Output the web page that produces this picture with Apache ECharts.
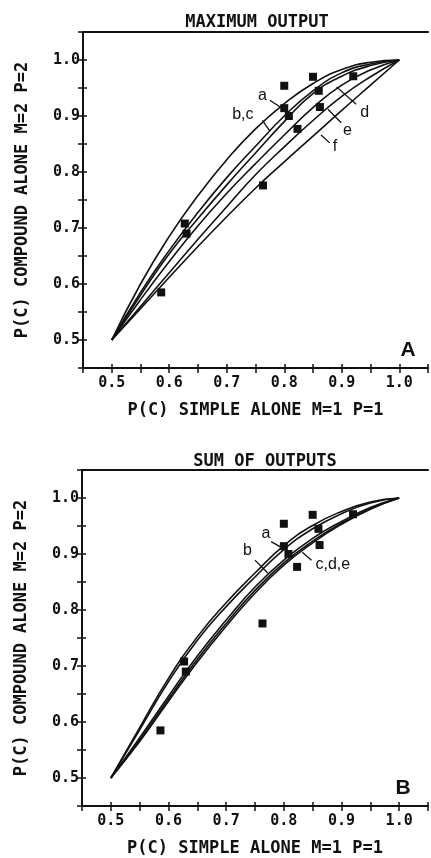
<!DOCTYPE html>
<html>
<head>
<meta charset="utf-8">
<script src="https://cdn.jsdelivr.net/npm/echarts@6/dist/echarts.min.js"></script>
<style>
  html, body { margin: 0; padding: 0; background: #fff; }
  #chart { width: 431px; height: 858px; }
</style>
</head>
<body>
<div id="chart"></div>
<script>
// shared x positions of the read curve points
const curveX = [0.5, 0.55, 0.6, 0.65, 0.7, 0.75, 0.8, 0.85, 0.9, 0.95, 1.0];

// panel A: maximum output
const maxA = [0.5, 0.6, 0.685, 0.758, 0.822, 0.877, 0.922, 0.958, 0.983, 0.996, 1.0];
const maxB = [0.5, 0.585, 0.66, 0.728, 0.79, 0.846, 0.9, 0.945, 0.977, 0.993, 1.0];
const maxC = [0.5, 0.58, 0.654, 0.717, 0.777, 0.834, 0.89, 0.94, 0.971, 0.99, 1.0];
const maxD = [0.5, 0.572, 0.64, 0.704, 0.762, 0.815, 0.866, 0.915, 0.955, 0.982, 1.0];
const maxE = [0.5, 0.56, 0.62, 0.68, 0.738, 0.795, 0.845, 0.892, 0.935, 0.97, 1.0];
const maxF = [0.5, 0.556, 0.612, 0.667, 0.72, 0.771, 0.818, 0.864, 0.91, 0.955, 1.0];

// panel B: sum of outputs
const sumA = [0.5, 0.59, 0.678, 0.752, 0.813, 0.866, 0.915, 0.951, 0.976, 0.993, 1.0];
const sumB = [0.5, 0.586, 0.672, 0.746, 0.806, 0.859, 0.908, 0.945, 0.972, 0.991, 1.0];
const sumC = [0.5, 0.572, 0.646, 0.718, 0.782, 0.841, 0.889, 0.928, 0.958, 0.983, 1.0];
const sumD = [0.5, 0.568, 0.641, 0.712, 0.776, 0.835, 0.884, 0.923, 0.955, 0.981, 1.0];
const sumE = [0.5, 0.565, 0.637, 0.707, 0.771, 0.83, 0.88, 0.92, 0.953, 0.98, 1.0];

// observed data (same in both panels)
const obsX = [0.586, 0.627, 0.63, 0.763, 0.80, 0.80, 0.808, 0.823, 0.85, 0.86, 0.862, 0.92];
const obsY = [0.585, 0.708, 0.69, 0.776, 0.954, 0.914, 0.90, 0.877, 0.97, 0.945, 0.916, 0.971];

// curve labels: text position and leader line (data units)
const notesA = [
  { text: 'a',   at: [0.762, 0.936], from: [0.775, 0.928], to: [0.793, 0.916] },
  { text: 'b,c', at: [0.728, 0.903], from: [0.762, 0.892], to: [0.775, 0.873] },
  { text: 'd',   at: [0.94, 0.906],  from: [0.925, 0.921], to: [0.891, 0.952] },
  { text: 'e',   at: [0.91, 0.874],  from: [0.899, 0.888], to: [0.876, 0.912] },
  { text: 'f',   at: [0.888, 0.846], from: [0.879, 0.852], to: [0.864, 0.866] }
];
const notesB = [
  { text: 'a',     at: [0.769, 0.936], from: [0.778, 0.922], to: [0.797, 0.911] },
  { text: 'b',     at: [0.737, 0.906], from: [0.75, 0.889],  to: [0.772, 0.866] },
  { text: 'c,d,e', at: [0.885, 0.881], from: [0.848, 0.889], to: [0.832, 0.903] }
];

const MONO = '"DejaVu Sans Mono", monospace';
const INK = '#111';

function pairs(xs, ys) {
  return xs.map((x, i) => [x, ys[i]]);
}

function tickLabel(v) {
  const t = v * 10;
  return Math.abs(t - Math.round(t)) < 1e-6 ? v.toFixed(1) : '';
}

function axesFor(grid, xName, yName, yGap) {
  const base = { type: 'value', gridIndex: grid, min: 0.45, max: 1.05, interval: 0.05, splitLine: { show: false } };
  const x = [
    Object.assign({}, base, {
      position: 'bottom',
      name: xName, nameLocation: 'middle', nameGap: 34,
      nameTextStyle: { fontFamily: MONO, fontSize: 17, fontWeight: 'bold', color: INK },
      axisLine: { lineStyle: { color: INK, width: 2 } },
      axisTick: { length: 5, lineStyle: { color: INK, width: 1.5 } },
      axisLabel: { formatter: tickLabel, margin: 8, fontFamily: MONO, fontSize: 15, fontWeight: 'bold', color: INK }
    }),
    Object.assign({}, base, {
      position: 'bottom',
      axisLine: { show: false },
      axisTick: { inside: true, length: 4, lineStyle: { color: INK, width: 1.5 } },
      axisLabel: { show: false }
    }),
    Object.assign({}, base, {
      position: 'top',
      axisLine: { lineStyle: { color: INK, width: 2 } },
      axisTick: { show: false },
      axisLabel: { show: false }
    })
  ];
  const y = [
    Object.assign({}, base, {
      position: 'left',
      name: yName, nameLocation: 'middle', nameGap: yGap,
      nameTextStyle: { fontFamily: MONO, fontSize: 17, fontWeight: 'bold', color: INK },
      axisLine: { lineStyle: { color: INK, width: 2 } },
      axisTick: { length: 5, lineStyle: { color: INK, width: 1.5 } },
      axisLabel: { formatter: tickLabel, margin: 3, fontFamily: MONO, fontSize: 15, fontWeight: 'bold', color: INK }
    }),
    Object.assign({}, base, {
      position: 'left',
      axisLine: { show: false },
      axisTick: { inside: true, length: 4, lineStyle: { color: INK, width: 1.5 } },
      axisLabel: { show: false }
    })
  ];
  return { x, y };
}

function curve(ys, xi, yi) {
  return {
    type: 'line', xAxisIndex: xi, yAxisIndex: yi,
    data: pairs(curveX, ys),
    smooth: 0.5,
    showSymbol: false, silent: true,
    lineStyle: { color: INK, width: 1.6 }
  };
}

function notesSeries(notes, xi, yi) {
  return {
    type: 'line', xAxisIndex: xi, yAxisIndex: yi, data: [], silent: true,
    markPoint: {
      symbol: 'circle', symbolSize: 0,
      label: { show: true, position: 'inside', fontFamily: 'Liberation Sans, Arial, sans-serif', fontSize: 16, color: INK },
      data: notes.map(n => ({ coord: n.at, value: n.text, label: { formatter: n.text } }))
    },
    markLine: {
      symbol: ['none', 'none'], silent: true,
      label: { show: false },
      lineStyle: { color: INK, width: 1.3, type: 'solid' },
      data: notes.map(n => [{ coord: n.from }, { coord: n.to }])
    }
  };
}

function dots(xi, yi) {
  return {
    type: 'scatter', xAxisIndex: xi, yAxisIndex: yi,
    data: pairs(obsX, obsY),
    symbol: 'rect', symbolSize: 8, silent: true,
    itemStyle: { color: INK, opacity: 1 }, z: 5
  };
}

const axA = axesFor(0, 'P(C) SIMPLE ALONE M=1 P=1', 'P(C) COMPOUND ALONE M=2 P=2', 52);
const axB = axesFor(1, 'P(C) SIMPLE ALONE M=1 P=1', 'P(C) COMPOUND ALONE M=2 P=2', 52);

const option = {
  backgroundColor: '#fff',
  animation: false,
  title: [
    { text: 'MAXIMUM OUTPUT', left: 252, top: 9, textAlign: 'center',
      textStyle: { fontFamily: MONO, fontSize: 17, fontWeight: 'bold', color: INK } },
    { text: 'SUM OF OUTPUTS', left: 260, top: 448, textAlign: 'center',
      textStyle: { fontFamily: MONO, fontSize: 17, fontWeight: 'bold', color: INK } },
    { text: 'A', left: 403, top: 335, textAlign: 'center',
      textStyle: { fontFamily: 'Liberation Sans, Arial, sans-serif', fontSize: 21, fontWeight: 'bold', color: INK } },
    { text: 'B', left: 398, top: 773, textAlign: 'center',
      textStyle: { fontFamily: 'Liberation Sans, Arial, sans-serif', fontSize: 21, fontWeight: 'bold', color: INK } }
  ],
  grid: [
    { left: 83, top: 32, width: 349, height: 336 },
    { left: 82, top: 470, width: 346, height: 336 }
  ],
  xAxis: axA.x.concat(axB.x),
  yAxis: axA.y.concat(axB.y),
  series: [
    curve(maxA, 0, 0), curve(maxB, 0, 0), curve(maxC, 0, 0),
    curve(maxD, 0, 0), curve(maxE, 0, 0), curve(maxF, 0, 0),
    dots(0, 0), notesSeries(notesA, 0, 0),
    curve(sumA, 3, 2), curve(sumB, 3, 2), curve(sumC, 3, 2),
    curve(sumD, 3, 2), curve(sumE, 3, 2),
    dots(3, 2), notesSeries(notesB, 3, 2)
  ]
};

const chart = echarts.init(document.getElementById('chart'), null, { renderer: 'canvas' });
chart.setOption(option);
</script>
</body>
</html>
